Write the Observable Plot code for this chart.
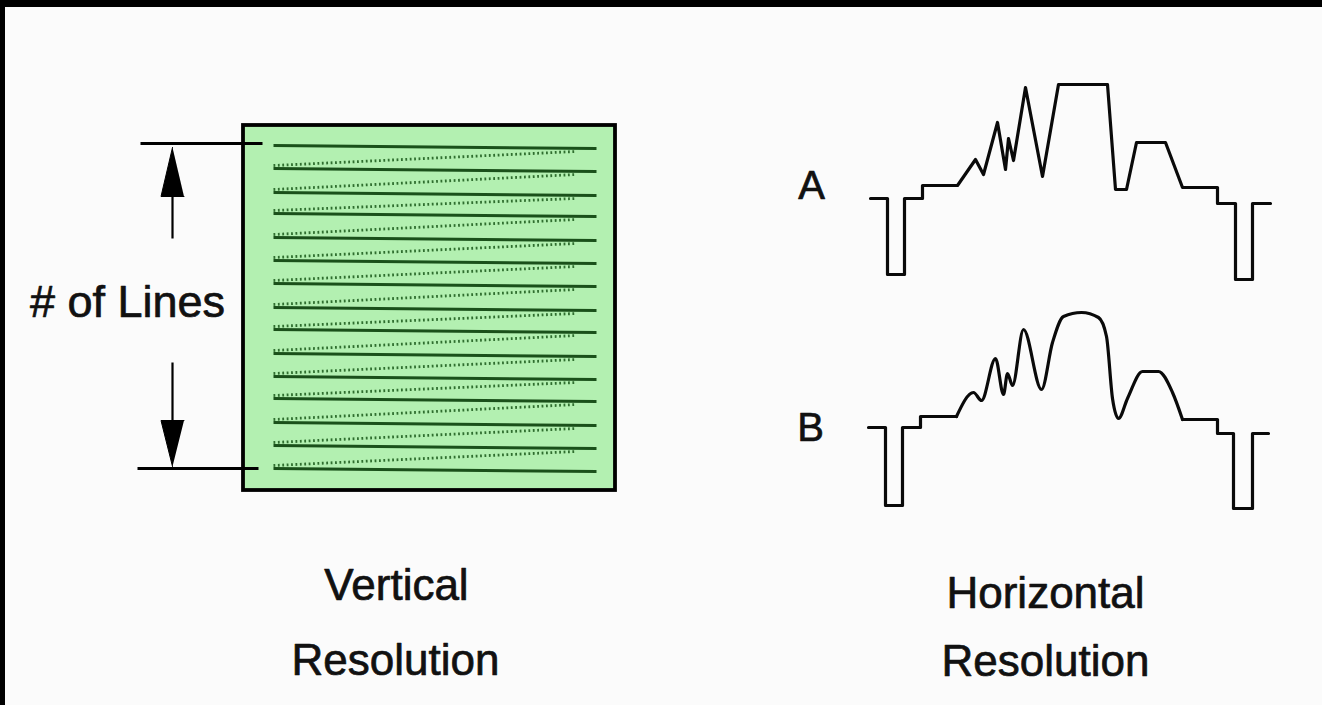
<!DOCTYPE html>
<html><head><meta charset="utf-8">
<script src="https://cdn.jsdelivr.net/npm/d3@7"></script>
<script src="https://cdn.jsdelivr.net/npm/@observablehq/plot@0.6"></script>
<style>
html,body{margin:0;padding:0;background:#000;overflow:hidden;}
#chart{position:absolute;left:5px;top:7px;width:1317px;height:698px;background:#fbfbfb;}
#chart svg{display:block;}
</style></head><body><div id="chart"></div>
<script>
// Diagram coordinates (reference picture space)
const screenBox = [{x1: 243, y1: 125, x2: 615, y2: 490}];
const scanLineY = [145, 168, 192, 213, 237, 260, 283, 307, 329, 353, 376, 398, 422, 445, 468];
const scanX = [273, 596];
const retraceX = [273, 575];
const dimLines = [
  {x1: 140, y1: 143, x2: 262, y2: 143},
  {x1: 137, y1: 468, x2: 258, y2: 468}
];
const arrowShafts = [
  {x1: 172, y1: 190, x2: 172, y2: 238},
  {x1: 172, y1: 362, x2: 172, y2: 425}
];
const arrowHeads = [
  {id: "up", pts: [[172, 147], [160.5, 196], [183.5, 196]]},
  {id: "down", pts: [[172, 466], [160.5, 420], [183.5, 420]]}
];
const waveA = [
  [870, 198], [887, 198], [887, 274], [904, 274], [904, 198], [922, 198], [922, 185],
  [957, 185], [975, 159], [983, 174], [997, 122], [1005, 169], [1008, 138], [1013, 160],
  [1025, 87], [1042, 176], [1058, 84], [1107, 84], [1115, 189], [1126, 189], [1136, 142],
  [1165, 142], [1182, 187], [1217, 187], [1217, 203], [1235, 203], [1235, 279],
  [1252, 279], [1252, 203], [1270, 203]
];
const waveBLeft = [
  [868, 427], [885, 427], [885, 505], [902, 505], [902, 427], [920, 427], [920, 416], [956, 416]
];
const waveBSmooth = [
  [956, 416], [973, 392], [981, 400], [995, 358], [1003, 394], [1007, 373], [1012, 385],
  [1023, 329], [1041, 389], [1052, 342], [1063, 316], [1081, 312], [1098, 317], [1106, 336],
  [1112, 398], [1118, 418], [1127, 398], [1142, 371], [1158, 371], [1172, 392], [1182, 419]
];
const waveBRight = [
  [1182, 419], [1217, 419], [1217, 433], [1233, 433], [1233, 508], [1252, 508], [1252, 433], [1268, 433]
];
const bigLabels = [
  {x: 396, y: 585, text: "Vertical"},
  {x: 395, y: 660, text: "Resolution"},
  {x: 1045, y: 593, text: "Horizontal"},
  {x: 1045, y: 661, text: "Resolution"}
];
const sideLabel = [{x: 127, y: 302, text: "# of Lines"}];
const traceLabels = [{x: 811, y: 186, text: "A"}, {x: 810, y: 428, text: "B"}];

const solid = scanLineY.map(y => ({x1: scanX[0], y1: y, x2: scanX[1], y2: y + 3}));
const retrace = scanLineY.slice(1).map((y, i) => ({x1: retraceX[0], y1: y - 3, x2: retraceX[1], y2: scanLineY[i] + 6}));
const heads = arrowHeads.flatMap(h => h.pts.map(p => ({id: h.id, x: p[0], y: p[1]})));
const toPts = a => a.map(([x, y]) => ({x, y}));
const wave = {x: "x", y: "y", stroke: "#0a0a0a", strokeWidth: 3.2, strokeLinejoin: "round"};
const txt = {x: "x", y: "y", text: "text", fill: "#111", stroke: "#111", strokeWidth: 0.7, textAnchor: "middle"};

const chart = Plot.plot({
  width: 1317, height: 698, margin: 0,
  x: {domain: [5, 1322], range: [0, 1317], axis: null},
  y: {domain: [7, 705], range: [0, 698], axis: null},
  style: {background: "transparent", fontFamily: "'Liberation Sans', Arial, sans-serif"},
  marks: [
    Plot.rect(screenBox, {x1: "x1", y1: "y1", x2: "x2", y2: "y2", fill: "#b3f0b1", stroke: "#000", strokeWidth: 3.8}),
    Plot.link(retrace, {x1: "x1", y1: "y1", x2: "x2", y2: "y2", stroke: "#2f6e2f", strokeWidth: 2.8, strokeDasharray: "1.8 2.6"}),
    Plot.link(solid, {x1: "x1", y1: "y1", x2: "x2", y2: "y2", stroke: "#1a501a", strokeWidth: 3}),
    Plot.link(dimLines, {x1: "x1", y1: "y1", x2: "x2", y2: "y2", stroke: "#000", strokeWidth: 2.8}),
    Plot.link(arrowShafts, {x1: "x1", y1: "y1", x2: "x2", y2: "y2", stroke: "#000", strokeWidth: 2.2}),
    Plot.line(heads, {x: "x", y: "y", z: "id", fill: "#000", stroke: "#000", strokeWidth: 1}),
    Plot.line(toPts(waveA), wave),
    Plot.line(toPts(waveBLeft), wave),
    Plot.line(toPts(waveBSmooth), {...wave, curve: "monotone-x"}),
    Plot.line(toPts(waveBRight), wave),
    Plot.text(bigLabels, {...txt, fontSize: 44}),
    Plot.text(sideLabel, {...txt, fontSize: 45}),
    Plot.text(traceLabels, {...txt, fontSize: 40})
  ]
});
document.getElementById("chart").appendChild(chart);
</script></body></html>
